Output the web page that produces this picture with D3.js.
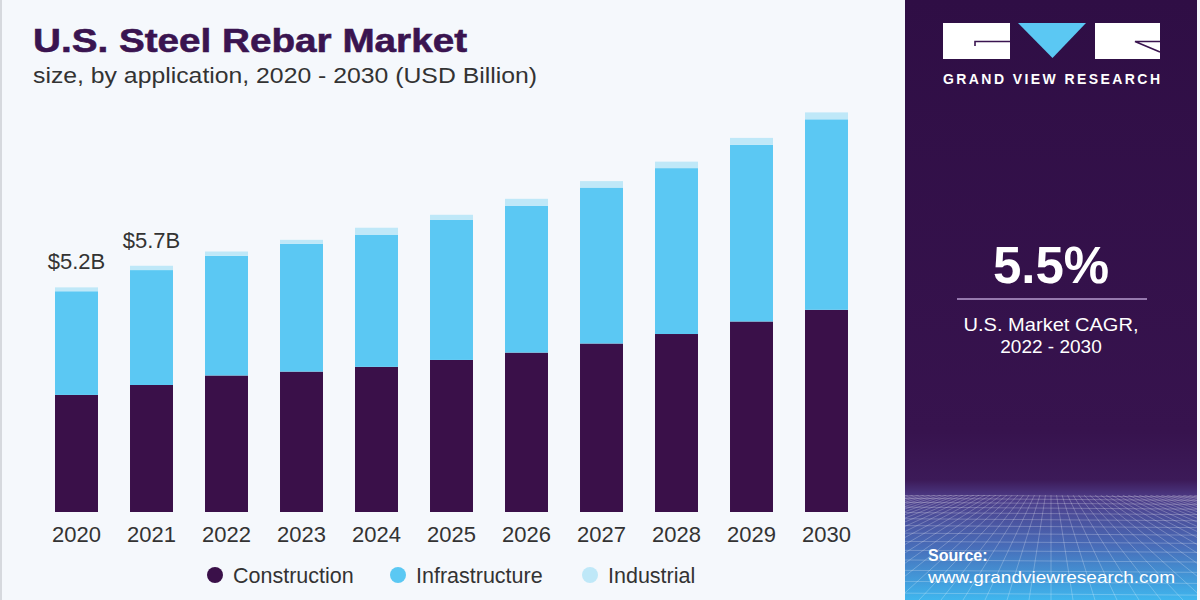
<!DOCTYPE html>
<html>
<head>
<meta charset="utf-8">
<script src="https://cdn.jsdelivr.net/npm/d3@7"></script>
<style>
  html, body { margin: 0; padding: 0; background: #f5f8fc; }
  svg { display: block; }
</style>
</head>
<body>
<svg id="chart" width="1200" height="600"></svg>
<script>
// ---- data ----
const years = ["2020","2021","2022","2023","2024","2025","2026","2027","2028","2029","2030"];
const construction   = [2.71, 2.94, 3.16, 3.25, 3.36, 3.52, 3.69, 3.90, 4.12, 4.41, 4.68];
const infrastructure = [2.40, 2.66, 2.77, 2.96, 3.06, 3.24, 3.40, 3.61, 3.84, 4.09, 4.41];
const industrial     = [0.09, 0.10, 0.10, 0.09, 0.16, 0.12, 0.16, 0.15, 0.15, 0.16, 0.16];
const valueLabels = [{year: "2020", text: "$5.2B"}, {year: "2021", text: "$5.7B"}];
const seriesNames = ["Construction", "Infrastructure", "Industrial"];
const seriesKeys = ["construction", "infrastructure", "industrial"];
const colors = ["#3a1049", "#5bc8f3", "#bfe8f8"];

const rows = years.map((y, i) => ({
  year: y, construction: construction[i], infrastructure: infrastructure[i], industrial: industrial[i]
}));

const svg = d3.select("#chart");
const W = 1200, H = 600;
const FONT = "Liberation Sans, Arial, sans-serif";

// background
svg.append("rect").attr("x", 0).attr("y", 0).attr("width", W).attr("height", H).attr("fill", "#f5f8fc");
svg.append("rect").attr("x", 0).attr("y", 0).attr("width", 2).attr("height", H).attr("fill", "#d6d9de");

// ---- scales ----
const x = d3.scaleBand().domain(years).range([39, 864]).paddingInner(0.427).paddingOuter(0.2135);
const y = d3.scaleLinear().domain([0, 10]).range([512, 80]);
const color = d3.scaleOrdinal().domain(seriesKeys).range(colors);

// ---- title ----
svg.append("text").attr("x", 33).attr("y", 52)
  .attr("font-family", FONT).attr("font-weight", "bold")
  .attr("font-size", 34).attr("fill", "#3a1450")
  .attr("stroke", "#3a1450").attr("stroke-width", 0.6)
  .attr("textLength", 434).attr("lengthAdjust", "spacingAndGlyphs")
  .text("U.S. Steel Rebar Market");
svg.append("text").attr("x", 33).attr("y", 83)
  .attr("font-family", FONT)
  .attr("font-size", 22).attr("fill", "#333")
  .attr("textLength", 504).attr("lengthAdjust", "spacingAndGlyphs")
  .text("size, by application, 2020 - 2030 (USD Billion)");

// ---- bars ----
const stacked = d3.stack().keys(seriesKeys)(rows);
svg.append("g").selectAll("g").data(stacked).join("g")
  .attr("fill", d => color(d.key))
  .selectAll("rect").data(d => d).join("rect")
  .attr("x", d => x(d.data.year))
  .attr("width", x.bandwidth())
  .attr("y", d => y(d[1]))
  .attr("height", d => y(d[0]) - y(d[1]));

// value labels
const totals = new Map(rows.map(r => [r.year, r.construction + r.infrastructure + r.industrial]));
svg.append("g").selectAll("text").data(valueLabels).join("text")
  .attr("x", d => x(d.year) + x.bandwidth() / 2)
  .attr("y", d => y(totals.get(d.year)) - 18)
  .attr("text-anchor", "middle")
  .attr("font-family", FONT)
  .attr("font-size", 22).attr("fill", "#333")
  .text(d => d.text);

// x axis
const xAxis = svg.append("g").attr("transform", "translate(0,512)")
  .call(d3.axisBottom(x).tickSize(0).tickPadding(10));
xAxis.select(".domain").remove();
xAxis.selectAll("text")
  .attr("font-family", FONT)
  .attr("font-size", 22).attr("fill", "#333").attr("dy", "0.9em");

// legend
const legendX = [215, 398, 590];
const lg = svg.append("g").selectAll("g").data(seriesNames).join("g")
  .attr("transform", (d, i) => `translate(${legendX[i]},575)`);
lg.append("circle").attr("r", 8).attr("fill", (d, i) => colors[i]);
lg.append("text").attr("x", 18).attr("y", 7.5)
  .attr("font-family", FONT)
  .attr("font-size", 21.5).attr("fill", "#333")
  .text(d => d);

// ---- right panel ----
const defs = svg.append("defs");
const grad = defs.append("linearGradient").attr("id", "pgrad").attr("x1", 0).attr("y1", 0).attr("x2", 0).attr("y2", 1);
[[0, "#2f0e45"], [0.72, "#37134e"], [0.8, "#3c1a58"], [0.83, "#4d3c88"], [0.91, "#486cb8"], [1, "#3fb6ee"]]
  .forEach(([o, c]) => grad.append("stop").attr("offset", o).attr("stop-color", c));
defs.append("clipPath").attr("id", "gridclip").append("rect")
  .attr("x", 905).attr("y", 495).attr("width", 292).attr("height", 105);

const px0 = 905, px1 = 1197, pcx = (px0 + px1) / 2;
svg.append("rect").attr("x", px0).attr("y", 0).attr("width", px1 - px0).attr("height", H).attr("fill", "url(#pgrad)");

// decorative perspective grid
const grid = svg.append("g").attr("clip-path", "url(#gridclip)")
  .attr("stroke", "#ffffff").attr("stroke-opacity", 0.24).attr("stroke-width", 1).attr("fill", "none");
const hy = d3.range(0, 16).map(k => 495 + 3 * k + 0.35 * k * k);
grid.selectAll("line.h").data(hy).join("line").attr("class", "h")
  .attr("x1", px0).attr("x2", px1).attr("y1", d => d).attr("y2", d => d + 2);
const vx = d3.range(-30, 31).map(k => pcx + k * 22);
grid.selectAll("line.v").data(vx).join("line").attr("class", "v")
  .attr("x1", d => pcx + (d - pcx) * 0.25).attr("y1", 495)
  .attr("x2", d => d).attr("y2", 600);

// logo
const logo = svg.append("g");
logo.append("rect").attr("x", 943).attr("y", 23).attr("width", 67).attr("height", 36).attr("fill", "#ffffff");
logo.append("path").attr("d", "M975,46 L975,41.5 L1010,41.5").attr("stroke", "#3a1450").attr("stroke-width", 1.6).attr("fill", "none");
logo.append("path").attr("d", "M1018,23 L1086,23 L1052.5,58 Z").attr("fill", "#5bc8f3");
logo.append("rect").attr("x", 1095).attr("y", 23).attr("width", 65).attr("height", 36).attr("fill", "#ffffff");
logo.append("path").attr("d", "M1160,41.5 L1135,41.5 L1160,52").attr("stroke", "#3a1450").attr("stroke-width", 1.6).attr("fill", "none");
svg.append("text").attr("x", 943).attr("y", 83.5)
  .attr("font-family", FONT).attr("font-weight", "bold")
  .attr("font-size", 14).attr("fill", "#ffffff")
  .attr("textLength", 217).attr("lengthAdjust", "spacing")
  .text("GRAND VIEW RESEARCH");

// CAGR
svg.append("text").attr("x", pcx).attr("y", 283).attr("text-anchor", "middle")
  .attr("font-family", FONT).attr("font-weight", "bold")
  .attr("font-size", 51).attr("fill", "#ffffff").text("5.5%");
svg.append("line").attr("x1", 957).attr("x2", 1147).attr("y1", 299).attr("y2", 299)
  .attr("stroke", "#b79ccf").attr("stroke-width", 1.5);
svg.append("text").attr("x", pcx).attr("y", 331).attr("text-anchor", "middle")
  .attr("font-family", FONT)
  .attr("font-size", 19).attr("fill", "#ffffff")
  .attr("textLength", 175).attr("lengthAdjust", "spacingAndGlyphs")
  .text("U.S. Market CAGR,");
svg.append("text").attr("x", pcx).attr("y", 353).attr("text-anchor", "middle")
  .attr("font-family", FONT)
  .attr("font-size", 19).attr("fill", "#ffffff").text("2022 - 2030");

// source
svg.append("text").attr("x", 928).attr("y", 561)
  .attr("font-family", FONT).attr("font-weight", "bold")
  .attr("font-size", 16).attr("fill", "#ffffff").text("Source:");
svg.append("text").attr("x", 928).attr("y", 583)
  .attr("font-family", FONT)
  .attr("font-size", 17).attr("fill", "#ffffff")
  .attr("textLength", 247).attr("lengthAdjust", "spacingAndGlyphs")
  .text("www.grandviewresearch.com");
</script>
</body>
</html>
